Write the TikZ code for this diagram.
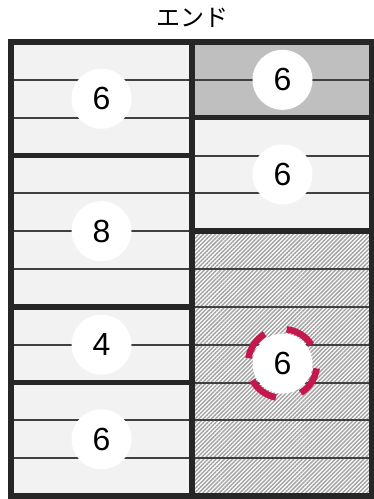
\documentclass[tikz,border=0pt]{standalone}
\usepackage{fontspec}
\setmainfont{Liberation Sans}
\newfontfamily\jpfont{Noto Sans CJK JP}
\usetikzlibrary{patterns.meta}
\definecolor{framecol}{HTML}{262626}
\definecolor{rowline}{HTML}{404040}
\definecolor{lightfill}{HTML}{F2F2F2}
\definecolor{grayfill}{HTML}{BFBFBF}
\definecolor{hatchgray}{HTML}{A3A3A3}
\definecolor{ringred}{HTML}{C4184C}
\begin{document}
\begin{tikzpicture}[x=1pt,y=-1pt,
  thinline/.style={draw=rowline,line width=2pt},
  thickline/.style={draw=framecol,line width=5.5pt},
  numc/.style={circle,fill=white,minimum size=60pt,inner sep=0pt,font=\fontsize{32}{32}\selectfont},
  ring/.style={draw=ringred,line width=6.5pt},
  titlestyle/.style={font=\jpfont\fontsize{24}{24}\selectfont,inner sep=0pt}]
\useasboundingbox (0,0) rectangle (374,499);
% fills
\fill[lightfill] (11,42) rectangle (192,496);
\fill[grayfill] (192,42) rectangle (371.5,117.67);
\fill[lightfill] (192,117.67) rectangle (371.5,231.17);
\fill[white] (192,231.17) rectangle (371.5,496);
\fill[pattern={Lines[angle=45,distance=2.9pt,line width=1.45pt]},pattern color=hatchgray] (192,231.17) rectangle (371.5,496);
% thin row lines
\foreach \i in {1,...,11}{
  \pgfmathsetmacro{\yy}{42+\i*37.8333}
  \draw[thinline] (11,\yy) -- (371.5,\yy);
}
% thick block borders
\draw[thickline] (11,155.5) -- (192,155.5);
\draw[thickline] (11,306.83) -- (192,306.83);
\draw[thickline] (11,382.5) -- (192,382.5);
\draw[thickline] (192,117.67) -- (371.5,117.67);
\draw[thickline] (192,231.17) -- (371.5,231.17);
\draw[thickline] (192,42) -- (192,496);
% outer frame
\draw[draw=framecol,line width=6pt] (11,42) rectangle (371.5,496);
% numbers
\node[numc] (l1) at (101.5,98.75) {6};
\node[numc] (l2) at (101.5,231.17) {8};
\node[numc] (l3) at (101.5,344.67) {4};
\node[numc] (l4) at (101.5,439.25) {6};
\node[numc] (r1) at (282.5,79.83) {6};
\node[numc] (r2) at (282.5,174.42) {6};
\node[numc] (r3) at (282.5,363.58) {6};
% dashed ring
\foreach \a in {33,121,209,302}{
  \draw[ring] (r3.center) ++(\a:34.5pt) arc[start angle=\a,delta angle=50,radius=34.5pt];
}
% title
\node[titlestyle] (title) at (192,18) {エンド};
\end{tikzpicture}
\end{document}
